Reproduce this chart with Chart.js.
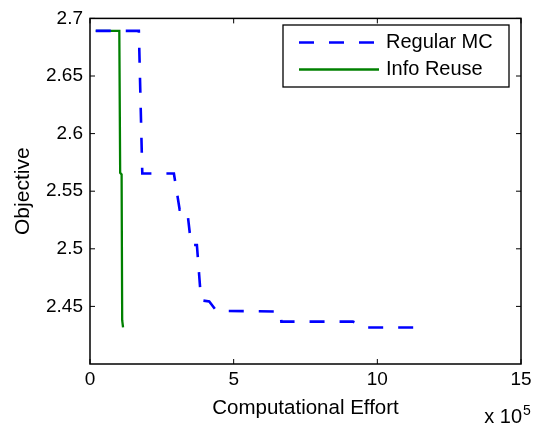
<!DOCTYPE html>
<html><head><meta charset="utf-8">
<script src="https://cdn.jsdelivr.net/npm/chart.js@4.4.1/dist/chart.umd.min.js"></script>
<style>html,body{margin:0;padding:0;background:#fff;}#wrap{width:544px;height:433px;}</style>
</head><body><div id="wrap"><canvas id="c" width="544" height="433"></canvas></div>
<script>
const FONT = '"Liberation Sans", Arial, Helvetica, sans-serif';
const seriesNames = ['Regular MC', 'Info Reuse'];
const xAxisTitle = 'Computational Effort';
const yAxisTitle = 'Objective';
const xMultiplierBase = 'x 10';
const xMultiplierExp = '5';
const xTickValues = [0, 500000, 1000000, 1500000];
const yTickValues = [2.45, 2.5, 2.55, 2.6, 2.65, 2.7];

const regularMcEffort = [20000, 170000, 182000, 292000, 312000, 338000, 352000, 372000, 386000, 390000, 415000, 440000, 663000, 666000, 915000, 933000, 957000, 1128000];
const regularMcObjective = [2.6892, 2.6892, 2.5653, 2.5653, 2.5340, 2.5340, 2.5033, 2.5033, 2.4573, 2.4552, 2.4543, 2.4462, 2.4455, 2.4368, 2.4368, 2.4350, 2.4317, 2.4317];
const infoReuseEffort = [20000, 102000, 105000, 110000, 112000, 115000];
const infoReuseObjective = [2.6892, 2.6892, 2.5660, 2.5645, 2.4380, 2.4317];

const toXY = (xs, ys) => xs.map((x, i) => ({x: x, y: ys[i]}));

const boxPlugin = {
  id: 'matlabBox',
  afterDraw(chart) {
    const ctx = chart.ctx;
    const a = chart.chartArea;
    const xs = chart.scales.x, ys = chart.scales.y;
    ctx.save();
    ctx.strokeStyle = '#000';
    ctx.lineWidth = 1.5;
    ctx.strokeRect(a.left, a.top, a.right - a.left, a.bottom - a.top);
    ctx.lineWidth = 1;
    const tl = 5;
    xTickValues.forEach(v => {
      const px = xs.getPixelForValue(v);
      ctx.beginPath();
      ctx.moveTo(px, a.bottom); ctx.lineTo(px, a.bottom - tl);
      ctx.moveTo(px, a.top); ctx.lineTo(px, a.top + tl);
      ctx.stroke();
    });
    yTickValues.forEach(v => {
      const py = ys.getPixelForValue(v);
      ctx.beginPath();
      ctx.moveTo(a.left, py); ctx.lineTo(a.left + tl, py);
      ctx.moveTo(a.right, py); ctx.lineTo(a.right - tl, py);
      ctx.stroke();
    });
    // legend
    const lx0 = 283, ly0 = 25, lx1 = 509, ly1 = 87;
    ctx.fillStyle = '#fff';
    ctx.fillRect(lx0, ly0, lx1 - lx0, ly1 - ly0);
    ctx.lineWidth = 1.3;
    ctx.strokeStyle = '#000';
    ctx.strokeRect(lx0, ly0, lx1 - lx0, ly1 - ly0);
    const rows = [42.5, 69.5];
    chart.data.datasets.forEach((ds, i) => {
      const y = rows[i];
      ctx.beginPath();
      ctx.strokeStyle = ds.borderColor;
      ctx.lineWidth = ds.borderWidth;
      ctx.setLineDash(ds.borderDash || []);
      ctx.moveTo(299, y); ctx.lineTo(379, y);
      ctx.stroke();
      ctx.setLineDash([]);
      ctx.fillStyle = '#000';
      ctx.font = '20px ' + FONT;
      ctx.textAlign = 'left';
      ctx.textBaseline = 'middle';
      ctx.fillText(ds.label, 386, y);
    });
    // x multiplier
    ctx.fillStyle = '#000';
    ctx.textBaseline = 'alphabetic';
    ctx.textAlign = 'right';
    ctx.font = '20px ' + FONT;
    ctx.fillText(xMultiplierBase, 522, 423);
    ctx.textAlign = 'left';
    ctx.font = '14px ' + FONT;
    ctx.fillText(xMultiplierExp, 523, 415);
    ctx.restore();
  }
};

new Chart(document.getElementById('c'), {
  type: 'line',
  data: {
    datasets: [
      {label: seriesNames[0], data: toXY(regularMcEffort, regularMcObjective), borderColor: '#0000ff', borderWidth: 2.6, borderDash: [15, 15], borderCapStyle: 'butt', pointRadius: 0, tension: 0, fill: false},
      {label: seriesNames[1], data: toXY(infoReuseEffort, infoReuseObjective), borderColor: '#008000', borderWidth: 2.3, pointRadius: 0, tension: 0, fill: false}
    ]
  },
  options: {
    responsive: false,
    devicePixelRatio: 1,
    animation: false,
    events: [],
    layout: {padding: {top: 12, right: 23, left: 0, bottom: 0}},
    plugins: {legend: {display: false}, tooltip: {enabled: false}},
    scales: {
      x: {
        type: 'linear', min: 0, max: 1500000,
        afterBuildTicks: s => { s.ticks = xTickValues.map(v => ({value: v})); },
        afterFit: s => { s.height = 69; },
        ticks: {color: '#000', font: {family: FONT, size: 19}, padding: 4, maxRotation: 0, callback: v => String(v / 100000)},
        grid: {display: false, drawTicks: false},
        border: {display: false},
        title: {display: true, text: xAxisTitle, color: '#000', font: {family: FONT, size: 20.5}, padding: {top: 0, bottom: 12}}
      },
      y: {
        type: 'linear', min: 2.4, max: 2.7,
        afterBuildTicks: s => { s.ticks = yTickValues.map(v => ({value: v})); },
        afterFit: s => { s.width = 90; },
        ticks: {color: '#000', font: {family: FONT, size: 19}, padding: 7, callback: v => String(+v.toFixed(2))},
        grid: {display: false, drawTicks: false},
        border: {display: false},
        title: {display: true, text: yAxisTitle, color: '#000', font: {family: FONT, size: 21}, padding: {top: 11, bottom: 0}}
      }
    }
  },
  plugins: [boxPlugin]
});
</script></body></html>
